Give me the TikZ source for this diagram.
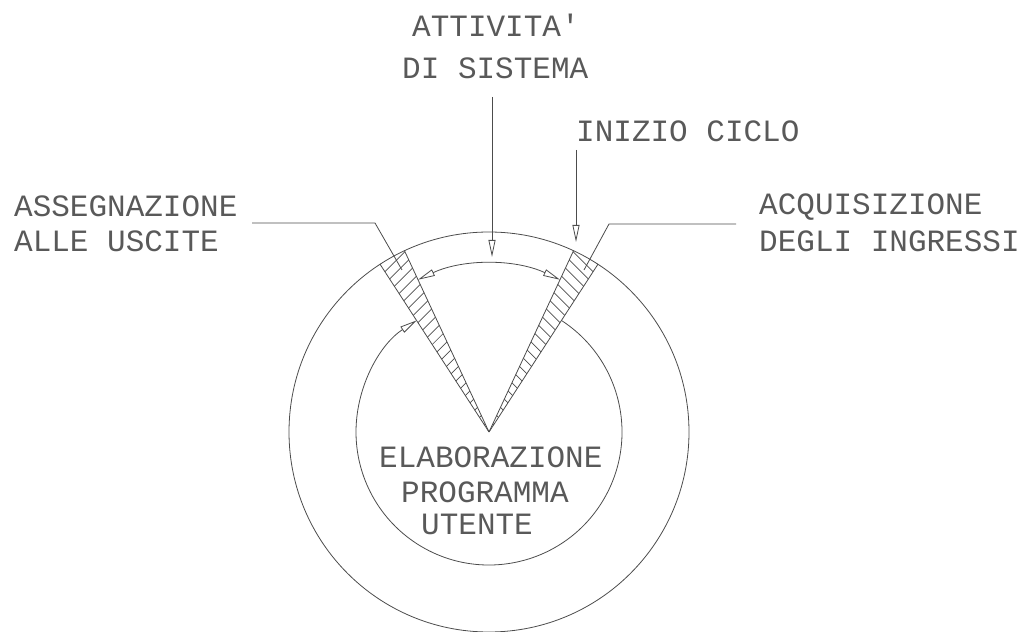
\documentclass[tikz,border=0pt]{standalone}
\usepackage{fontspec}
\setmonofont{Liberation Mono}
\usetikzlibrary{arrows.meta}
\begin{document}
\begin{tikzpicture}[x=1pt,y=1pt,
  ln/.style={draw=black!70, line width=0.8pt},
  lbl/.style={anchor=base west, inner sep=0pt, text=black!65,
    font=\ttfamily\fontsize{31}{31}\selectfont},
  arr/.style={ln, -{Triangle[open, length=17pt, width=7pt]}},
  dblarr/.style={ln, {Triangle[open, length=17pt, width=7pt]}-{Triangle[open, length=17pt, width=7pt]}},
  hatchln/.style={draw=black!70, line width=0.7pt}]
\useasboundingbox (0,0) rectangle (1026,632);
\coordinate (C) at (489,200);

% hatching of the two wedges
\begin{scope}
  \clip (C) -- ++(115:200) arc[start angle=115, end angle=123, radius=200] -- cycle;
  \foreach \k in {-30,...,30}
    \draw[hatchln, shift={(C)}] (135:{\k*8.5}) ++(45:-260) -- ++(45:520);
\end{scope}
\begin{scope}
  \clip (C) -- ++(57:200) arc[start angle=57, end angle=65, radius=200] -- cycle;
  \foreach \k in {-30,...,30}
    \draw[hatchln, shift={(C)}] (45:{\k*8.5}) ++(135:-260) -- ++(135:520);
\end{scope}

% circles and wedge edges
\draw[ln] (C) circle[radius=200];
\draw[ln] (C) -- ++(115:200);
\draw[ln] (C) -- ++(123:200);
\draw[ln] (C) -- ++(57:200);
\draw[ln] (C) -- ++(65:200);

% inner cycle arc (user program) and system arc
\draw[arr] (C) ++(57:133) arc[start angle=57, end angle=-237, radius=133];
\draw[dblarr] (C) ++(115:168) arc[start angle=115, end angle=65, radius=168];

% labels
\node[lbl] (att1) at (412,595) {ATTIVITA'};
\node[lbl] (att2) at (402,553) {DI SISTEMA};
\node[lbl] (ini) at (576,490) {INIZIO CICLO};
\node[lbl] (acq1) at (759,417) {ACQUISIZIONE};
\node[lbl] (acq2) at (759,380) {DEGLI INGRESSI};
\node[lbl] (ass1) at (14,415) {ASSEGNAZIONE};
\node[lbl] (ass2) at (14,380) {ALLE USCITE};
\node[lbl] (ela1) at (379,164) {ELABORAZIONE};
\node[lbl] (ela2) at (401,129) {PROGRAMMA};
\node[lbl] (ela3) at (421,97) {UTENTE};

% arrows from the top
\coordinate (a1s) at (492,535);
\coordinate (a1e) at (492,375);
\draw[arr] (a1s) -- (a1e);
\coordinate (a2s) at (576,482);
\coordinate (a2e) at (576,390);
\draw[arr] (a2s) -- (a2e);

% leader lines
\coordinate (L1) at (252,409);
\coordinate (L2) at (375,409);
\coordinate (L3) at (402,362);
\draw[ln] (L1) -- (L2) -- (L3);
\coordinate (R1) at (736,408);
\coordinate (R2) at (609,408);
\coordinate (R3) at (584,362);
\draw[ln] (R1) -- (R2) -- (R3);
\end{tikzpicture}
\end{document}
